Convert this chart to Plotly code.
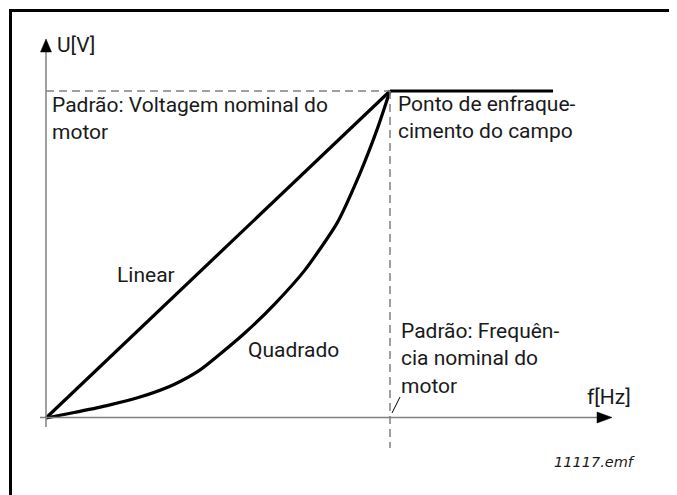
import plotly.graph_objects as go

# ---- data (relative units: % of nominal frequency / % of nominal voltage) ----
linear_f = [0, 100]
linear_u = [0, 100]
quad_f = [0, 7.8, 17.7, 27.3, 36.9, 44.8, 57.8, 66.6, 75.3, 84.6, 91.3, 96.2, 100]
quad_u = [0, 1.6, 3.8, 6.4, 10.1, 14.7, 26.0, 35.0, 45.3, 59.6, 74.9, 88.1, 100]
plateau_f = [100, 147.4]
plateau_u = [100, 100]
nominal_f = 100
nominal_u = 100

W, H = 677, 495
OFF = 8                   # page body margin of the browser
OX, OY = 46, 418          # reference pixel position of origin
SX, SY = 3.44, 3.27       # pixels per unit


def X(px):
    return (px - OX) / SX


def Y(py):
    return (OY - py) / SY


FONT = "Roboto"
TXT = "#1a1a1a"
GRAY = "#808080"

fig = go.Figure()
fig.add_trace(go.Scatter(x=quad_f, y=quad_u, mode="lines",
                         line=dict(color="black", width=3.2, shape="spline", smoothing=0.6),
                         hoverinfo="skip", showlegend=False))
fig.add_trace(go.Scatter(x=linear_f, y=linear_u, mode="lines", line=dict(color="black", width=3.2),
                         hoverinfo="skip", showlegend=False))
fig.add_trace(go.Scatter(x=plateau_f, y=plateau_u, mode="lines", line=dict(color="black", width=3.2),
                         hoverinfo="skip", showlegend=False))

shapes = []
# outer frame (top and left)
fx = (10.5 - OFF) / W
fy = 1 - (10.5 - OFF) / H
shapes.append(dict(type="path", xref="paper", yref="paper",
                   path=f"M {fx},-0.1 L {fx},{fy} L 1.1,{fy}",
                   line=dict(color="black", width=3)))
# axes
shapes.append(dict(type="line", x0=X(46), x1=X(46), y0=Y(427), y1=Y(50), line=dict(color=GRAY, width=1.5)))
shapes.append(dict(type="line", x0=X(40), x1=X(600), y0=Y(417.5), y1=Y(417.5), line=dict(color=GRAY, width=1.5)))
shapes.append(dict(type="path", path=f"M {X(46)},{Y(39)} L {X(40.5)},{Y(52)} L {X(51.5)},{Y(52)} Z",
                   fillcolor="black", line=dict(color="black", width=0.5)))
shapes.append(dict(type="path", path=f"M {X(612)},{Y(417.5)} L {X(597)},{Y(412)} L {X(597)},{Y(423)} Z",
                   fillcolor="black", line=dict(color="black", width=0.5)))
# dashed reference lines
shapes.append(dict(type="line", x0=0, x1=nominal_f, y0=nominal_u, y1=nominal_u,
                   line=dict(color=GRAY, width=1.5, dash="8px,5px")))
shapes.append(dict(type="line", x0=nominal_f, x1=nominal_f, y0=nominal_u, y1=Y(448),
                   line=dict(color=GRAY, width=1.5, dash="8px,5px")))
# leader
shapes.append(dict(type="line", x0=X(392), x1=X(400), y0=Y(413), y1=Y(397), line=dict(color="black", width=1)))

fig.update_layout(shapes=shapes)


def note(text, px, py, size=21, italic=False, anchor="left", yanchor="middle", family=FONT):
    fig.add_annotation(x=X(px), y=Y(py), text=text, showarrow=False, xanchor=anchor, yanchor=yanchor,
                       align="left",
                       font=dict(family=family, size=size, color=TXT, style="italic" if italic else "normal"))


note("U[V]", 55, 45)
note("Padrão: Voltagem nominal do<br>motor", 50, 118)
note("Ponto de enfraque-<br>cimento do campo", 396, 117)
note("Linear", 115, 275)
note("Quadrado", 246, 350)
note("Padrão: Frequên-<br>cia nominal do<br>motor", 399, 358)
note("f[Hz]", 585, 397)
note("11117.emf", 552, 462, size=14.5, italic=True, family="DejaVu Sans")

fig.update_layout(
    width=W, height=H, autosize=False,
    margin=dict(l=0, r=0, t=0, b=0, pad=0),
    paper_bgcolor="white", plot_bgcolor="white",
    xaxis=dict(range=[X(OFF), X(OFF + W)], visible=False, fixedrange=True),
    yaxis=dict(range=[Y(OFF + H), Y(OFF)], visible=False, fixedrange=True),
)

fig.write_html("out.html")
